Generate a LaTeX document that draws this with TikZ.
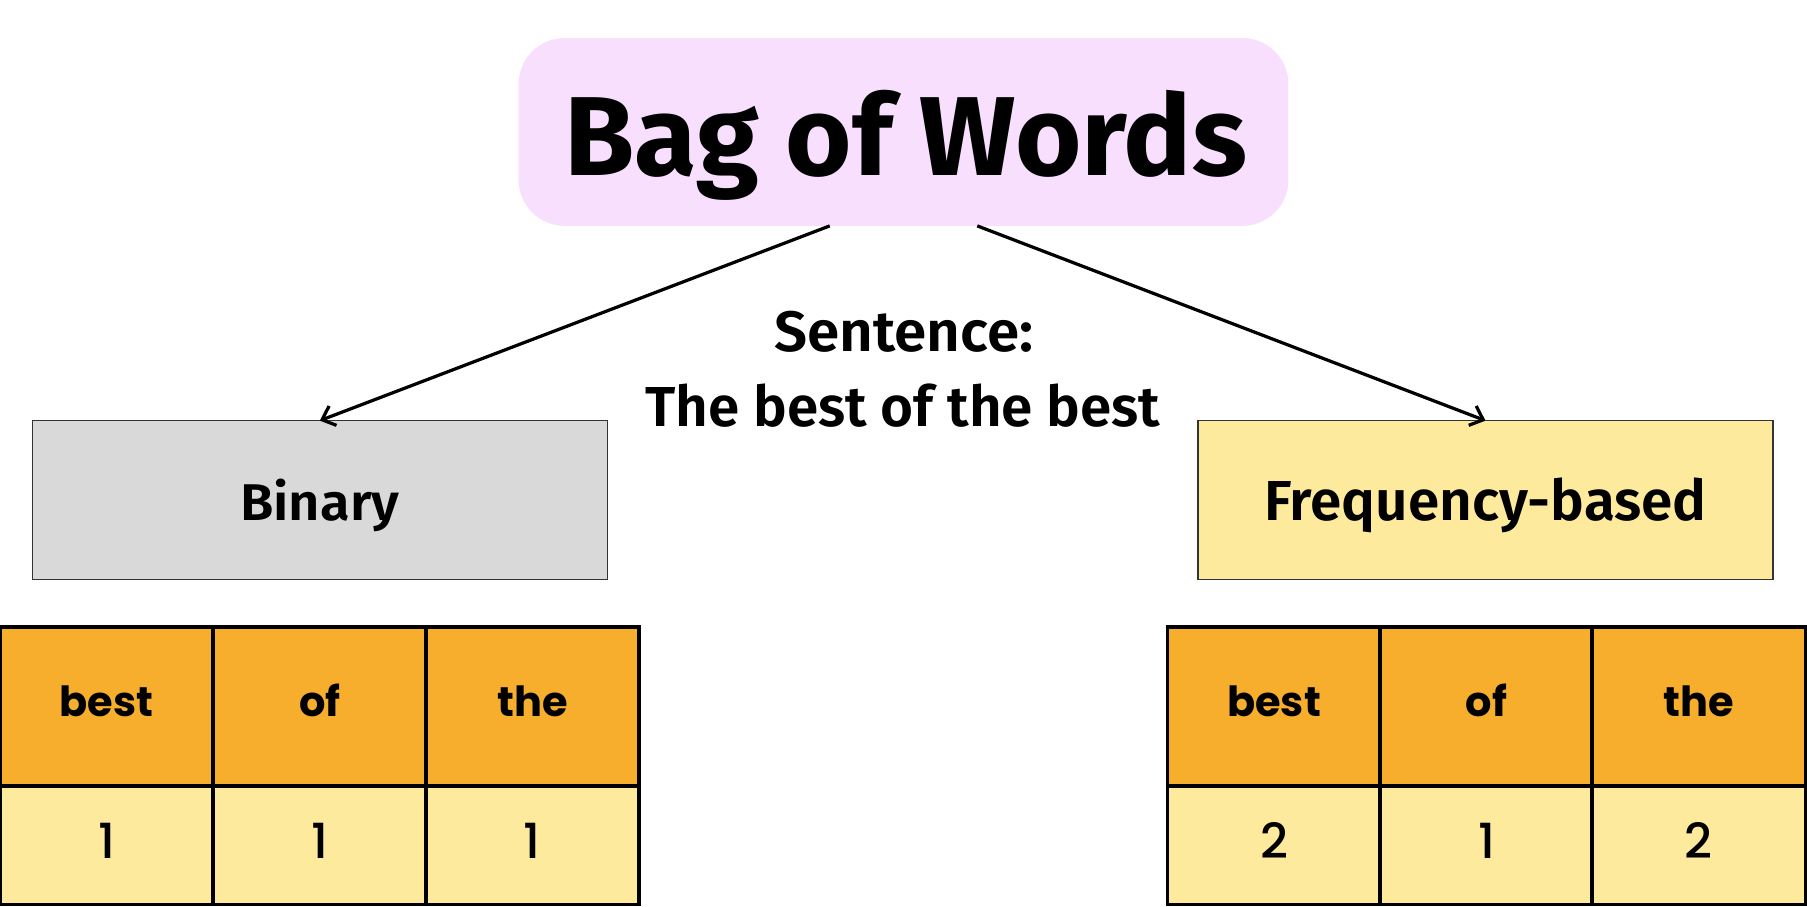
\documentclass[tikz,border=0pt]{standalone}
\usepackage{fontspec}
\setmainfont{Fira Sans}
\newfontfamily\firasb{Fira Sans SemiBold}
\newfontfamily\popp{Poppins}
\newfontfamily\poppm{Poppins Medium}
\usetikzlibrary{arrows.meta}
\definecolor{titlepink}{HTML}{F7DFFD}
\definecolor{boxgray}{HTML}{D9D9D9}
\definecolor{lightyellow}{HTML}{FEEA9C}
\definecolor{headorange}{HTML}{F8AE2D}
\begin{document}
\begin{tikzpicture}[x=0.5pt,y=-0.5pt,
  titlebox/.style={rectangle, rounded corners=20pt, fill=titlepink, minimum width=334pt, minimum height=81.5pt, inner sep=0pt, outer sep=0pt},
  catbox/.style={rectangle, draw=black!80, line width=0.6pt, minimum width=249.5pt, minimum height=69pt, inner sep=0pt, outer sep=0pt, text height=18pt, text depth=0pt},
  headcell/.style={rectangle, draw=black, line width=1.5pt, fill=headorange, minimum width=92.5pt, minimum height=69pt, inner sep=0pt, outer sep=0pt, font=\popp\bfseries\fontsize{18}{20}\selectfont, text height=9pt, text depth=0pt},
  valcell/.style={rectangle, draw=black, line width=1.5pt, fill=lightyellow, minimum width=92.5pt, minimum height=51.5pt, inner sep=0pt, outer sep=0pt, font=\poppm\fontsize{21}{23}\selectfont, text height=11.5pt, text depth=0pt},
  conn/.style={line width=1.4pt, -{Straight Barb[length=5pt,width=9pt,line width=1.4pt]}},
  txt/.style={anchor=base, inner sep=0pt}
]
\useasboundingbox[fill=white] (0,0) rectangle (1568,787);

% title
\node[titlebox] (title) at (784,114.5) {};
\node[txt] (titletext) at (786,152) {\resizebox{296pt}{37pt}{\bfseries Bag of Words}};

% sentence
\node[txt] (sent1) at (784.5,305) {\resizebox{112.5pt}{17.5pt}{\firasb Sentence:}};
\node[txt] (sent2) at (783.5,370) {\resizebox{223.5pt}{18.5pt}{\firasb The best of the best}};

% category boxes
\node[catbox, fill=boxgray] (binary) at (277.5,434) {\resizebox{69pt}{18pt}{\firasb Binary}};
\node[catbox, fill=lightyellow] (freq) at (1289,434) {\resizebox{192pt}{18.5pt}{\firasb Frequency-based}};

% connectors
\draw[conn] ([xshift=-32pt]title.south) -- (binary.north);
\draw[conn] ([xshift=32pt]title.south) -- (freq.north);

% left table
\node[headcell] (lh1) at (92.5,613) {best};
\node[headcell] (lh2) at (277.5,613) {of};
\node[headcell] (lh3) at (462,613) {the};
\node[valcell] (lv1) at (92.5,733.5) {1};
\node[valcell] (lv2) at (277.5,733.5) {1};
\node[valcell] (lv3) at (462,733.5) {1};

% right table
\node[headcell] (rh1) at (1105.5,613) {best};
\node[headcell] (rh2) at (1290,613) {of};
\node[headcell] (rh3) at (1474,613) {the};
\node[valcell] (rv1) at (1105.5,733.5) {2};
\node[valcell] (rv2) at (1290,733.5) {1};
\node[valcell] (rv3) at (1474,733.5) {2};
\end{tikzpicture}
\end{document}
